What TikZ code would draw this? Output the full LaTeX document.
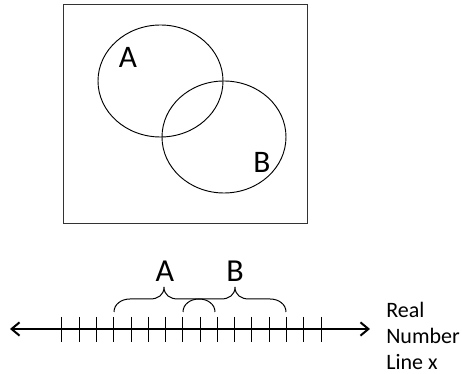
\documentclass[tikz,border=0pt]{standalone}
\usepackage{fontspec}
\setmainfont{Carlito}
\usetikzlibrary{shapes.geometric,arrows.meta}
\begin{document}
\begin{tikzpicture}[x=0.75pt,y=-0.75pt,
  setellipse/.style={ellipse,draw,line width=0.7pt,inner sep=0pt},
  venlabel/.style={font=\fontsize{23.5}{26}\selectfont,inner sep=0pt},
  bracelabel/.style={font=\fontsize{24}{28}\selectfont,inner sep=0pt},
  sidelabel/.style={font=\fontsize{16.5}{19.5}\selectfont,inner sep=0pt,anchor=west,align=left},
  tickmark/.style={line width=0.75pt},
  bracepath/.style={line width=0.75pt}]
\useasboundingbox (0,0) rectangle (462,374);
% universe box
\node[draw=black!80,line width=0.6pt,minimum width=244*0.75pt,minimum height=219*0.75pt,inner sep=0pt] (U) at (185,113.5) {};
% ellipses
\node[setellipse,minimum width=125*0.75pt,minimum height=112*0.75pt] (EA) at (160.5,81) {};
\node[setellipse,minimum width=124*0.75pt,minimum height=112*0.75pt] (EB) at (224,137) {};
\node[venlabel] (LA) at (128,57) {A};
\node[venlabel] (LB) at (262,162) {B};
% number line
\coordinate (L) at (10,329);
\coordinate (R) at (370,329);
\draw[line width=1.5pt,{Straight Barb[length=6pt,width=10pt]}-{Straight Barb[length=6pt,width=10pt]}] (L) -- (R);
\foreach \i in {0,...,15} {
  \coordinate (t\i) at ({62+\i*17.27},329);
  \draw[tickmark] ([yshift=12*0.75pt]t\i) -- ([yshift=-13*0.75pt]t\i);
}
% braces
\draw[bracepath] (114,312) .. controls (114,304.5) and (121,299) .. (130,299) -- (150,299)
  .. controls (158,299) and (164,295) .. (164,287)
  .. controls (164,295) and (170,299) .. (178,299) -- (199,299)
  .. controls (208,299) and (215,304.5) .. (215,312);
\draw[bracepath] (183,312) .. controls (183,304.5) and (190,299) .. (199,299) -- (221,299)
  .. controls (229,299) and (235,295) .. (235,287)
  .. controls (235,295) and (241,299) .. (249,299) -- (270,299)
  .. controls (279,299) and (286,304.5) .. (286,312);
\node[bracelabel] (BA) at (165,271) {A};
\node[bracelabel] (BB) at (235,271) {B};
\node[sidelabel] (RL) at (386,336) {Real\\Number\\Line x};
\end{tikzpicture}
\end{document}
